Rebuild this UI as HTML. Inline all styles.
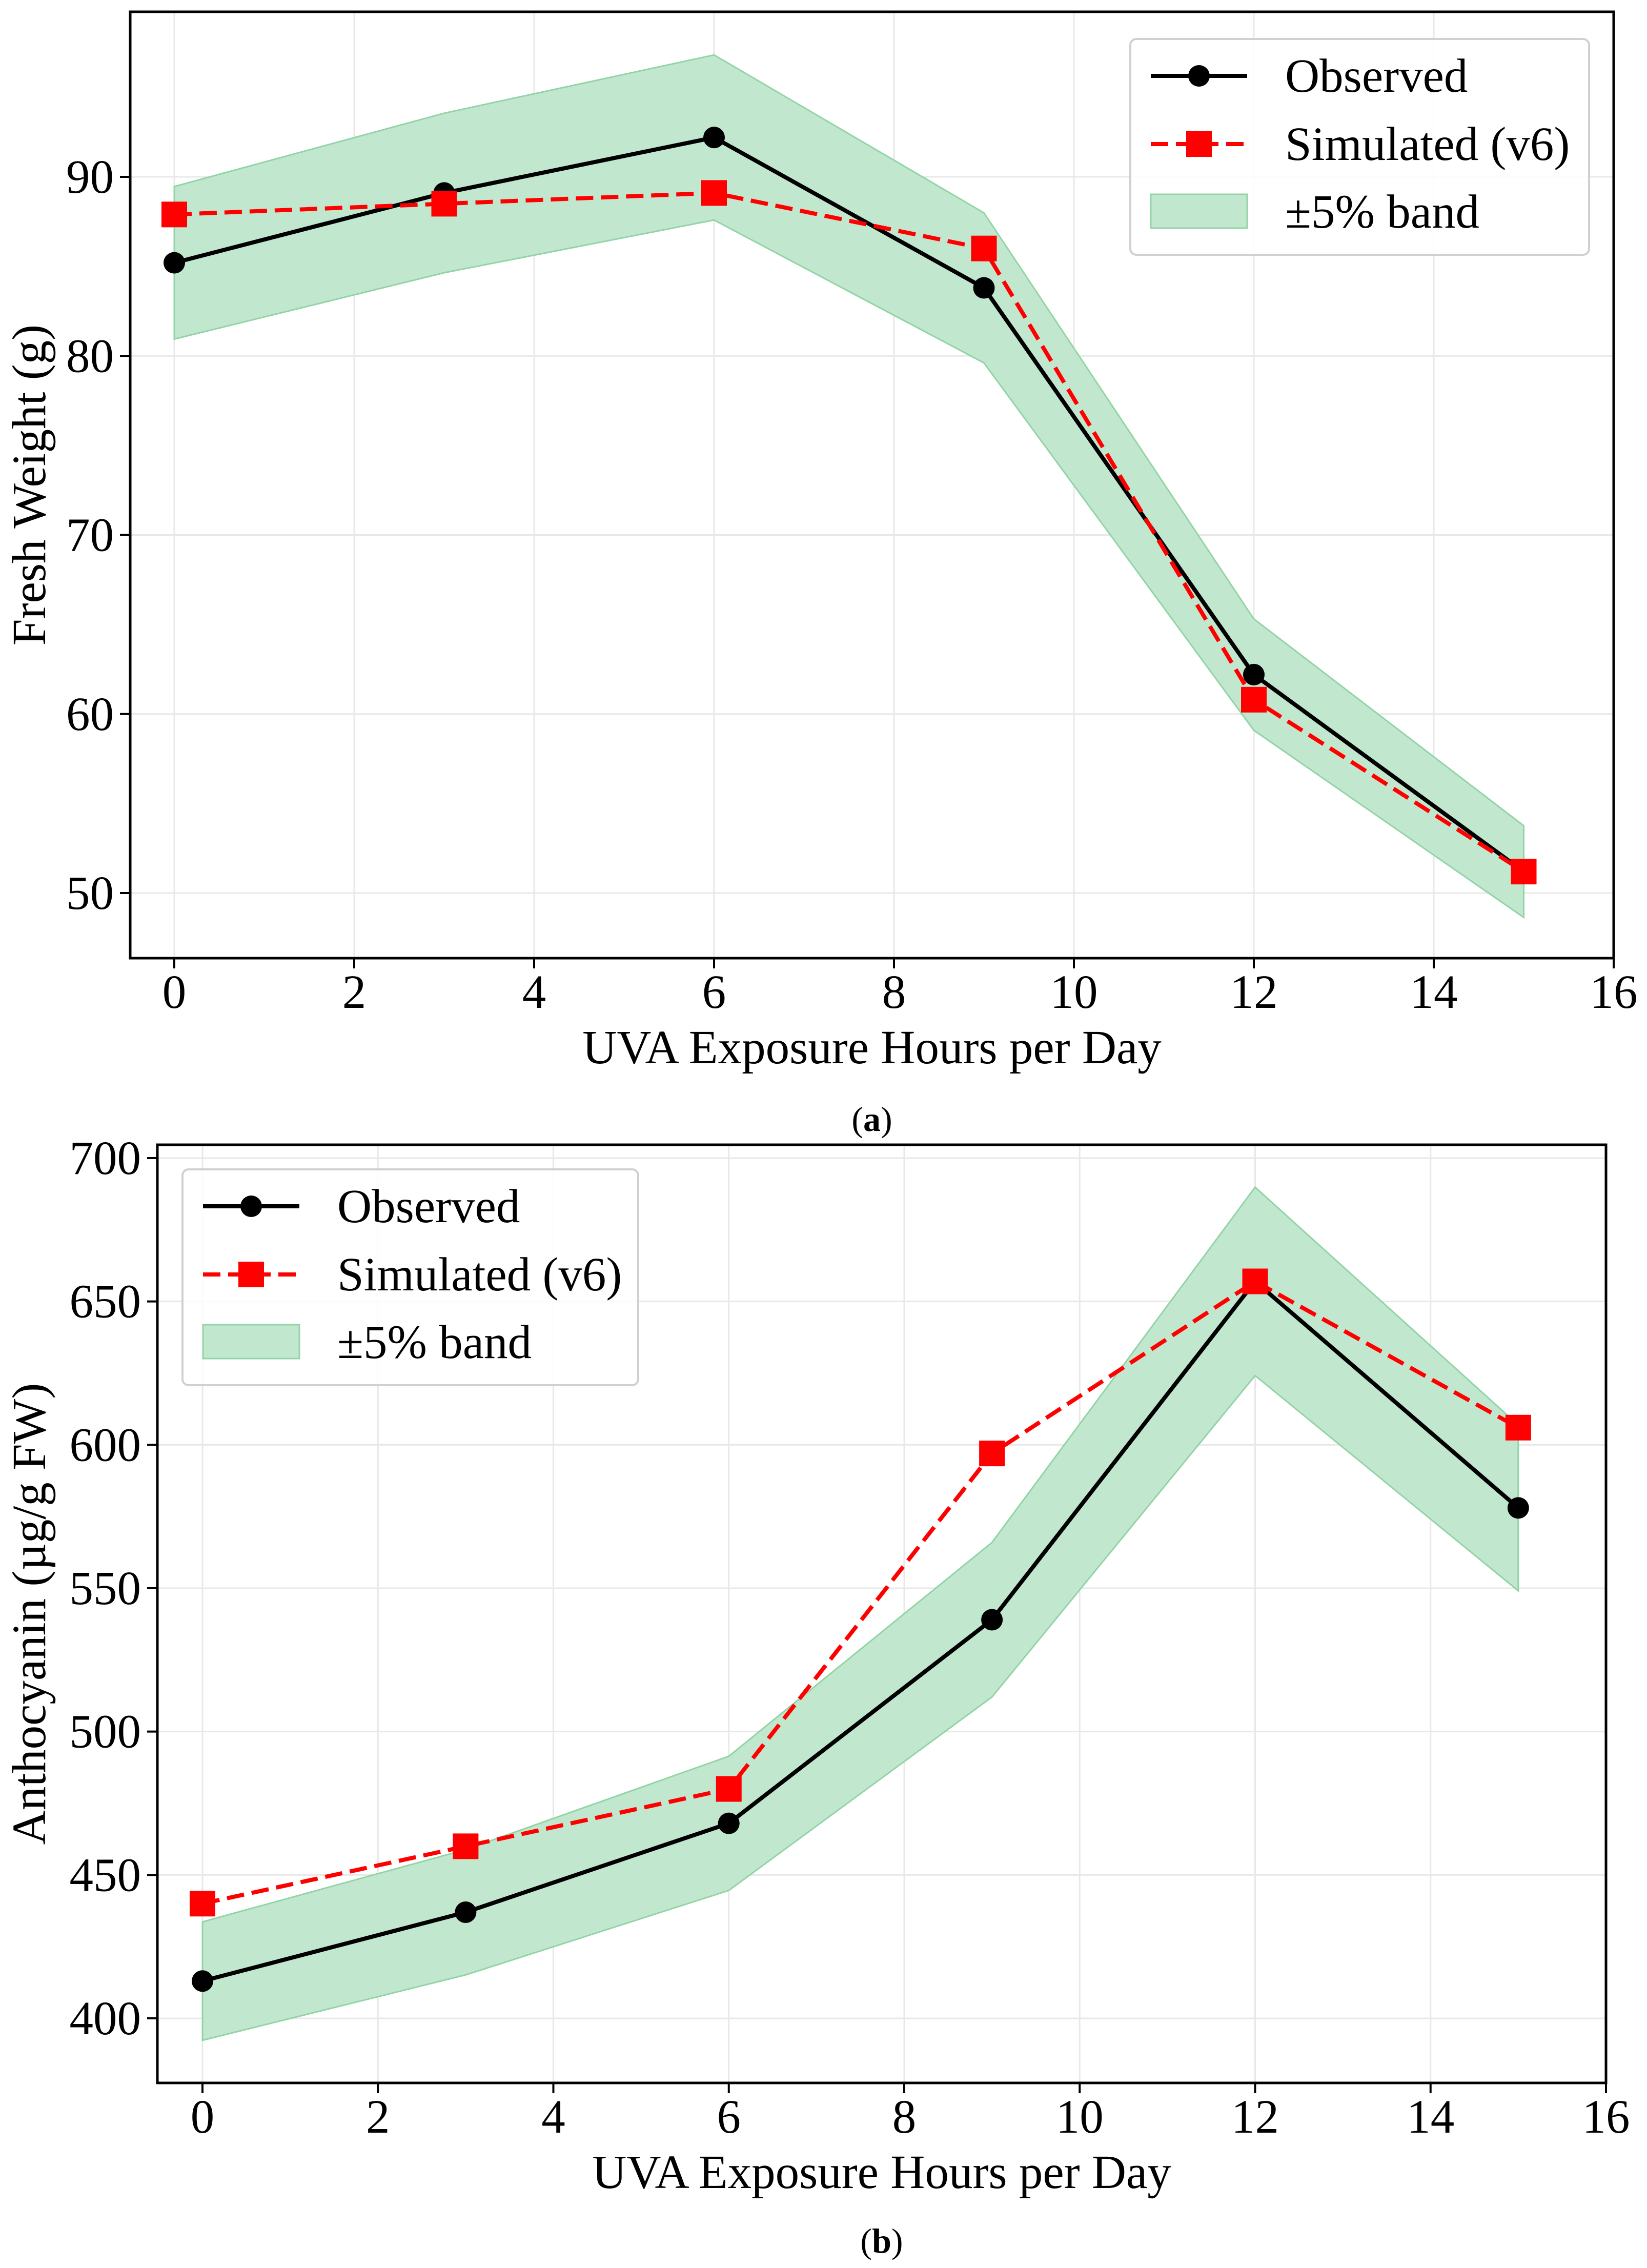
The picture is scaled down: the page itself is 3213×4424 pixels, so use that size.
<!DOCTYPE html>
<html><head><meta charset="utf-8"><style>
html,body{margin:0;padding:0;background:#fff}
svg{display:block}
text{font-family:"Liberation Serif","DejaVu Serif",serif;fill:#000}
</style></head><body>
<svg id="fig" width="3213" height="4424" viewBox="0 0 3213 4424" xmlns="http://www.w3.org/2000/svg"></svg>
<script>
const xCats = [0, 3, 6, 9, 12, 15];
const xTicks = [0, 2, 4, 6, 8, 10, 12, 14, 16];
const obsA = [85.2, 89.1, 92.2, 83.8, 62.2, 51.2];
const simA = [87.9, 88.5, 89.1, 86.0, 60.8, 51.2];
const yTicksA = [50, 60, 70, 80, 90];
const obsB = [413, 437, 468, 539, 657, 578];
const simB = [440, 460, 480, 597, 657, 606];
const yTicksB = [400, 450, 500, 550, 600, 650, 700];
const bandPct = 0.05;

const NS = "http://www.w3.org/2000/svg";
const svg = document.getElementById('fig');
const FS = 93;
function mk(tag, attrs, parent){const e=document.createElementNS(NS,tag);for(const k in attrs)e.setAttribute(k,attrs[k]);(parent||svg).appendChild(e);return e;}

function panel(cfg){
  const g = mk('g',{});
  
  
  const X = v => cfg.x0px + (v - 0) * (cfg.x16px - cfg.x0px) / 16;
  const Y = v => cfg.yApx + (v - cfg.yA) * (cfg.yBpx - cfg.yApx) / (cfg.yB - cfg.yA);
  xTicks.forEach(t=>{const l=mk('line',{x1:X(t),x2:X(t),y1:cfg.top,y2:cfg.bottom,stroke:'#e8e8e8','stroke-width':3},g);
    });
  cfg.yTicks.forEach(t=>{const l=mk('line',{x1:cfg.left,x2:cfg.right,y1:Y(t),y2:Y(t),stroke:'#e8e8e8','stroke-width':3},g);
    });
  const up = cfg.obs.map((v,i)=>X(xCats[i])+','+Y(v*(1+bandPct)));
  const lo = cfg.obs.map((v,i)=>X(xCats[i])+','+Y(v*(1-bandPct))).reverse();
  const band = mk('polygon',{points:up.concat(lo).join(' '),fill:'#c2e7cf',stroke:'#92d4a6','stroke-width':3},g);
  
  const ol = mk('polyline',{points:cfg.obs.map((v,i)=>X(xCats[i])+','+Y(v)).join(' '),fill:'none',stroke:'#000','stroke-width':8,'stroke-linejoin':'round'},g);
  
  const sl = mk('polyline',{points:cfg.sim.map((v,i)=>X(xCats[i])+','+Y(v)).join(' '),fill:'none',stroke:'#ff0000','stroke-width':8,'stroke-dasharray':'34 15'},g);
  
  cfg.obs.forEach((v,i)=>{const c=mk('circle',{cx:X(xCats[i]),cy:Y(v),r:21,fill:'#000'},g);
    });
  cfg.sim.forEach((v,i)=>{const r=mk('rect',{x:X(xCats[i])-25,y:Y(v)-25,width:50,height:50,fill:'#ff0000'},g);
    });
  const fr = mk('rect',{x:cfg.left,y:cfg.top,width:cfg.right-cfg.left,height:cfg.bottom-cfg.top,fill:'none',stroke:'#000','stroke-width':5},g);
  
  xTicks.forEach(t=>{mk('line',{x1:X(t),x2:X(t),y1:cfg.bottom,y2:cfg.bottom+20,stroke:'#000','stroke-width':4},g);
    const tx=mk('text',{x:X(t),y:cfg.bottom+97,'font-size':FS,'text-anchor':'middle'},g);tx.textContent=t;
    });
  cfg.yTicks.forEach(t=>{mk('line',{x1:cfg.left-20,x2:cfg.left,y1:Y(t),y2:Y(t),stroke:'#000','stroke-width':4},g);
    const tx=mk('text',{x:cfg.left-32,y:Y(t)+31,'font-size':FS,'text-anchor':'end'},g);tx.textContent=t;
    });
  const xt=mk('text',{x:(cfg.left+cfg.right)/2,y:cfg.bottom+205,'font-size':FS,'text-anchor':'middle'},g);
  xt.textContent='UVA Exposure Hours per Day';
  const yt=mk('text',{x:0,y:0,'font-size':FS,'text-anchor':'middle',transform:`translate(${cfg.ytx},${(cfg.top+cfg.bottom)/2}) rotate(-90)`},g);
  yt.textContent=cfg.ylabel;
  const cap=mk('text',{x:(cfg.left+cfg.right)/2,y:cfg.capY,'font-size':68,'text-anchor':'middle'},g);
  cap.innerHTML='(<tspan font-weight="bold">'+cfg.cap+'</tspan>)';
  const L=cfg.leg;
  const lg=mk('g',{},g);
  mk('rect',{x:L.x,y:L.y,width:L.w,height:L.h,rx:12,fill:'#fff','fill-opacity':0.85,stroke:'#d0d0d0','stroke-width':4},lg);
  const hx1=L.x+40,hx2=L.x+228,tx=L.x+302,rows=[L.y+72,L.y+205,L.y+337];
  mk('line',{x1:hx1,x2:hx2,y1:rows[0],y2:rows[0],stroke:'#000','stroke-width':8},lg);
  mk('circle',{cx:(hx1+hx2)/2,cy:rows[0],r:21,fill:'#000'},lg);
  mk('line',{x1:hx1,x2:hx2,y1:rows[1],y2:rows[1],stroke:'#ff0000','stroke-width':8,'stroke-dasharray':'34 15'},lg);
  mk('rect',{x:(hx1+hx2)/2-25,y:rows[1]-25,width:50,height:50,fill:'#ff0000'},lg);
  mk('rect',{x:hx1,y:rows[2]-34,width:hx2-hx1,height:66,fill:'#c2e7cf',stroke:'#92d4a6','stroke-width':3},lg);
  ['Observed','Simulated (v6)','±5% band'].forEach((s,i)=>{const t=mk('text',{x:tx,y:rows[i]+31,'font-size':FS},lg);t.textContent=s;
    });
}
panel({name:'chart-a',left:254,right:3148,top:23,bottom:1869,x0px:340,x16px:3148,yA:50,yApx:1742,yB:90,yBpx:345,
  yTicks:yTicksA,obs:obsA,sim:simA,ylabel:'Fresh Weight (g)',ytx:88,cap:'a',capY:2206,leg:{x:2205,y:76,w:895,h:421}});
panel({name:'chart-b',left:307,right:3133,top:2233,bottom:4063,x0px:395,x16px:3133,yA:400,yApx:3937,yB:700,yBpx:2259,
  yTicks:yTicksB,obs:obsB,sim:simB,ylabel:'Anthocyanin (µg/g FW)',ytx:88,cap:'b',capY:4394,leg:{x:356,y:2281,w:889,h:421}});
</script>
</body></html>
